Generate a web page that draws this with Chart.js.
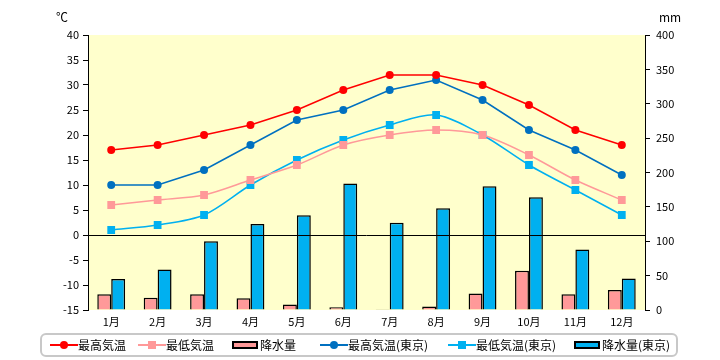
<!DOCTYPE html>
<html>
<head>
<meta charset="utf-8">
<script src="https://cdn.jsdelivr.net/npm/chart.js@4"></script>
<style>
  body { margin: 0; background: #fff; }
  #wrap { position: relative; width: 720px; height: 360px; }
  #legend { position: absolute; left: 40px; top: 333px; width: 638px; height: 24px;
    border: 2px solid #c8c8c8; border-radius: 6px; box-sizing: border-box;
    font-family: "Noto Sans CJK JP", sans-serif; font-size: 12px; color: #000; }
  .item { position: absolute; top: 0; height: 20px; line-height: 20px; white-space: nowrap; }
  .sym { position: absolute; top: 0; width: 28px; height: 20px; }
  .sym .ln { position: absolute; left: 0; right: 0; top: 9px; height: 1.5px; }
  .sym .pt { position: absolute; left: 10px; top: 6px; width: 8px; height: 8px; }
  .sym .bar { position: absolute; left: 0; top: 6px; width: 22px; height: 4px; border: 2px solid #000; }
  .lbl { position: absolute; left: 28px; top: 0; }
</style>
</head>
<body>
<div id="wrap">
  <canvas id="climateChart" width="720" height="360"></canvas>
  <div id="legend"></div>
</div>
<script>
// データ
const months = ['1月', '2月', '3月', '4月', '5月', '6月', '7月', '8月', '9月', '10月', '11月', '12月'];
const maxTemp = [17, 18, 20, 22, 25, 29, 32, 32, 30, 26, 21, 18];
const minTemp = [6, 7, 8, 11, 14, 18, 20, 21, 20, 16, 11, 7];
const rain = [23, 18, 23, 17, 8, 4, 1, 5, 24, 57, 23, 29];
const maxTempTokyo = [10, 10, 13, 18, 23, 25, 29, 31, 27, 21, 17, 12];
const minTempTokyo = [1, 2, 4, 10, 15, 19, 22, 24, 20, 14, 9, 4];
const rainTokyo = [45, 59, 100, 125, 138, 184, 127, 148, 180, 164, 88, 46];

const font = { family: '"Noto Sans CJK JP", sans-serif', size: 11 };

// 背景と単位
const plotBg = {
    id: 'plotBg',
    beforeDraw(chart) {
        const { ctx, chartArea: a } = chart;
        ctx.save();
        ctx.fillStyle = '#FFFFCC';
        ctx.fillRect(a.left, a.top, a.right - a.left, a.bottom - a.top);
        ctx.restore();
    },
    afterDraw(chart) {
        const ctx = chart.ctx;
        ctx.save();
        ctx.fillStyle = '#000';
        ctx.font = '12px "Noto Sans CJK JP", sans-serif';
        ctx.textBaseline = 'middle';
        ctx.fillText('℃', 56, 17);
        ctx.fillText('mm', 659, 17);
        // 0℃の線
        const y = chart.scales.y.getPixelForValue(0);
        ctx.strokeStyle = '#000';
        ctx.lineWidth = 1;
        ctx.beginPath();
        ctx.moveTo(chart.chartArea.left, Math.round(y) + 0.5);
        ctx.lineTo(chart.chartArea.right, Math.round(y) + 0.5);
        ctx.stroke();
        ctx.restore();
    }
};

const ctx = document.getElementById('climateChart').getContext('2d');
new Chart(ctx, {
    type: 'bar',
    data: {
        labels: months,
        datasets: [
            { type: 'line', label: '最高気温', data: maxTemp, yAxisID: 'y', order: 0,
              borderColor: '#FF0000', backgroundColor: '#FF0000', borderWidth: 1.5,
              pointStyle: 'circle', pointRadius: 4, pointBorderWidth: 0, tension: 0 },
            { type: 'line', label: '最低気温', data: minTemp, yAxisID: 'y', order: 0,
              borderColor: '#FF9999', backgroundColor: '#FF9999', borderWidth: 1.5,
              pointStyle: 'rect', pointRadius: 5.5, pointBorderWidth: 0, tension: 0.3 },
            { label: '降水量', data: rain, yAxisID: 'y2', order: 1,
              backgroundColor: '#FF9999', borderColor: '#000', borderWidth: 1.5,
              categoryPercentage: 0.6, barPercentage: 1.0 },
            { type: 'line', label: '最高気温(東京)', data: maxTempTokyo, yAxisID: 'y', order: 0,
              borderColor: '#0070C0', backgroundColor: '#0070C0', borderWidth: 1.5,
              pointStyle: 'circle', pointRadius: 4, pointBorderWidth: 0, tension: 0 },
            { type: 'line', label: '最低気温(東京)', data: minTempTokyo, yAxisID: 'y', order: 0,
              borderColor: '#00B0F0', backgroundColor: '#00B0F0', borderWidth: 1.5,
              pointStyle: 'rect', pointRadius: 5.5, pointBorderWidth: 0, tension: 0.3 },
            { label: '降水量(東京)', data: rainTokyo, yAxisID: 'y2', order: 1,
              backgroundColor: '#00B0F0', borderColor: '#000', borderWidth: 1.5,
              categoryPercentage: 0.6, barPercentage: 1.0 }
        ]
    },
    options: {
        responsive: false,
        animation: false,
        layout: { padding: { top: 35, left: 0, right: 0, bottom: 0 } },
        plugins: { legend: { display: false }, tooltip: { enabled: false } },
        scales: {
            x: {
                afterFit: s => { s.height = 50; },
                grid: { display: false },
                border: { display: false },
                ticks: { color: '#000', font: font, padding: -3 }
            },
            y: {
                position: 'left', min: -15, max: 40,
                afterFit: s => { s.width = 88; },
                ticks: { stepSize: 5, color: '#000', font: font, padding: 4 },
                grid: { drawOnChartArea: false, tickLength: 5, tickColor: '#000' },
                border: { display: true, color: '#000', width: 1 }
            },
            y2: {
                position: 'right', min: 0, max: 400,
                afterFit: s => { s.width = 75; },
                ticks: { stepSize: 50, color: '#000', font: font, padding: 6 },
                grid: { drawOnChartArea: false, tickLength: 5, tickColor: '#000' },
                border: { display: true, color: '#000', width: 1 }
            }
        }
    },
    plugins: [plotBg]
});

// 凡例
const legendItems = [
    { text: '最高気温', kind: 'line', color: '#FF0000', marker: 'circle', left: 8 },
    { text: '最低気温', kind: 'line', color: '#FF9999', marker: 'rect', left: 96 },
    { text: '降水量', kind: 'bar', color: '#FF9999', left: 190 },
    { text: '最高気温(東京)', kind: 'line', color: '#0070C0', marker: 'circle', left: 278 },
    { text: '最低気温(東京)', kind: 'line', color: '#00B0F0', marker: 'rect', left: 406 },
    { text: '降水量(東京)', kind: 'bar', color: '#00B0F0', left: 532 }
];
const legend = document.getElementById('legend');
legendItems.forEach(it => {
    const el = document.createElement('div');
    el.className = 'item';
    el.style.left = it.left + 'px';
    let sym = '<div class="sym">';
    if (it.kind === 'line') {
        sym += '<div class="ln" style="background:' + it.color + '"></div>';
        sym += '<div class="pt" style="background:' + it.color + ';border-radius:' + (it.marker === 'circle' ? '50%' : '0') + '"></div>';
    } else {
        sym += '<div class="bar" style="background:' + it.color + '"></div>';
    }
    sym += '</div>';
    el.innerHTML = sym + '<span class="lbl">' + it.text + '</span>';
    legend.appendChild(el);
});
</script>
</body>
</html>
